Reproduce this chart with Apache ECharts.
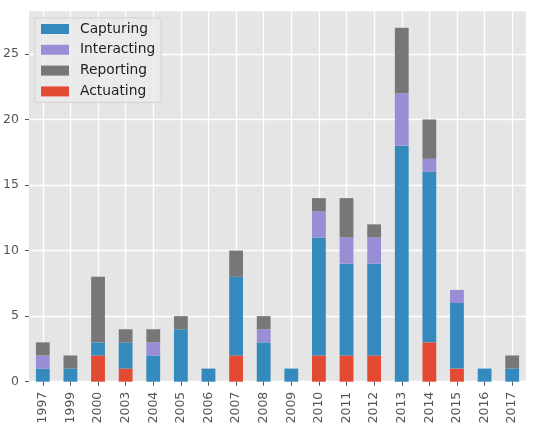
<!DOCTYPE html>
<html>
<head>
<meta charset="utf-8">
<script src="https://cdn.jsdelivr.net/npm/echarts@6/dist/echarts.min.js"></script>
<style>html,body{margin:0;padding:0;background:#fff;}#c{width:555px;height:428px;}</style>
</head>
<body>
<div id="c"></div>
<script>
const years = ['1997','1999','2000','2003','2004','2005','2006','2007','2008','2009','2010','2011','2012','2013','2014','2015','2016','2017'];
const actuating   = [0,0,2,1,0,0,0,2,0,0,2,2,2,0,3,1,0,0];
const capturing   = [1,1,1,2,2,4,1,6,3,1,9,7,7,18,13,5,1,1];
const interacting = [1,0,0,0,1,0,0,0,1,0,2,2,2,4,1,1,0,0];
const reporting   = [1,1,5,1,1,1,0,2,1,0,1,3,1,5,3,0,0,1];
const yTicks = [0,5,10,15,20,25];
const legendOrder = ['Capturing','Interacting','Reporting','Actuating'];

// half-band categories used only to place vertical grid lines at bar centres
const halfBands = [];
years.forEach(y => { halfBands.push(y + 'a'); halfBands.push(y + 'b'); });

const font = 'DejaVu Sans';
const chart = echarts.init(document.getElementById('c'), null, {renderer: 'canvas'});
const mk = (name, data, color) => ({
  name, type: 'bar', stack: 'total', data, barWidth: '50%',
  xAxisIndex: 0, itemStyle: {color}, emphasis: {disabled: true}
});
chart.setOption({
  animation: false,
  textStyle: {fontFamily: font},
  grid: {left: 29, right: 29, top: 10, bottom: 46.3, show: true, backgroundColor: '#E5E5E5', borderWidth: 0},
  legend: {
    data: legendOrder, orient: 'vertical', left: 35, top: 18,
    itemWidth: 28, itemHeight: 10, itemGap: 6.8,
    padding: [4, 6, 4, 6],
    backgroundColor: 'rgba(235,235,235,0.85)', borderColor: '#d0d0d0', borderWidth: 1, borderRadius: 3,
    textStyle: {fontFamily: font, fontSize: 13.8, color: '#222', lineHeight: 14, padding: [0, 0, 0, 6]},
    icon: 'rect'
  },
  xAxis: [{
    type: 'category', data: years, boundaryGap: true,
    axisLine: {show: false},
    axisTick: {show: true, alignWithLabel: true, length: 4, lineStyle: {color: '#555'}},
    axisLabel: {rotate: 90, fontSize: 12.5, color: '#555', margin: 10, fontFamily: font},
    splitLine: {show: false}
  }, {
    type: 'category', data: halfBands, boundaryGap: true, position: 'bottom',
    axisLine: {show: false}, axisTick: {show: false}, axisLabel: {show: false},
    splitLine: {show: true, interval: (i) => i % 2 === 1, lineStyle: {color: '#fff', width: 1.3}}
  }],
  yAxis: {
    type: 'value', min: 0, max: 28.35, interval: 5,
    axisLine: {show: false},
    axisTick: {show: true, length: 4, lineStyle: {color: '#555'}},
    axisLabel: {fontSize: 12.5, color: '#555', margin: 10, fontFamily: font, showMaxLabel: false,
      formatter: v => yTicks.includes(v) ? String(v) : ''},
    splitLine: {show: true, lineStyle: {color: '#fff', width: 1.3}}
  },
  series: [
    mk('Actuating', actuating, '#E24A33'),
    mk('Capturing', capturing, '#348ABD'),
    mk('Interacting', interacting, '#988ED5'),
    mk('Reporting', reporting, '#777777')
  ]
});
</script>
</body>
</html>
